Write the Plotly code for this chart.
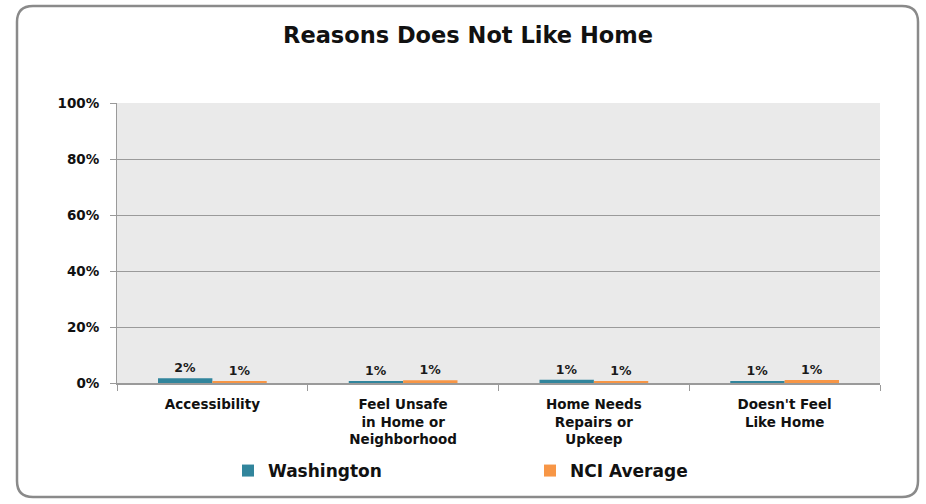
import plotly.graph_objects as go

categories = ["Accessibility", "Feel Unsafe<br>in Home or<br>Neighborhood",
              "Home Needs<br>Repairs or<br>Upkeep", "Doesn't Feel<br>Like Home"]
washington = [1.7, 0.6, 1.2, 0.6]
nci_average = [0.6, 1.0, 0.7, 1.1]
y_ticks = [0, 20, 40, 60, 80, 100]
y_tick_labels = ["0%", "20%", "40%", "60%", "80%", "100%"]

FONT = "DejaVu Sans"
W, H = 926, 504
L, R, T, B = 117, 880, 103, 383

def px(x):
    return (x - L) / (R - L)

def py(y):
    return (B - y) / (B - T)

fig = go.Figure()
fig.add_trace(go.Bar(name="<b>Washington</b>", x=categories, y=washington,
                     marker=dict(color="#31859C", line=dict(width=0)),
                     texttemplate="<b>%{y:.0f}%</b>", textposition="outside",
                     textfont=dict(family=FONT, size=12.5, color="#1a1a1a"),
                     cliponaxis=False))
fig.add_trace(go.Bar(name="<b>NCI Average</b>", x=categories, y=nci_average,
                     marker=dict(color="#F79646", line=dict(width=0)),
                     texttemplate="<b>%{y:.0f}%</b>", textposition="outside",
                     textfont=dict(family=FONT, size=12.5, color="#1a1a1a"),
                     cliponaxis=False))

# rounded outer border
x0, x1, y0, y1, r = 17, 918, 6, 497, 16
path = (f"M {px(x0+r)},{py(y0)} L {px(x1-r)},{py(y0)} "
        f"Q {px(x1)},{py(y0)} {px(x1)},{py(y0+r)} "
        f"L {px(x1)},{py(y1-r)} Q {px(x1)},{py(y1)} {px(x1-r)},{py(y1)} "
        f"L {px(x0+r)},{py(y1)} Q {px(x0)},{py(y1)} {px(x0)},{py(y1-r)} "
        f"L {px(x0)},{py(y0+r)} Q {px(x0)},{py(y0)} {px(x0+r)},{py(y0)} Z")

fig.update_layout(
    width=W, height=H,
    margin=dict(l=L, r=W - R, t=T, b=H - B, pad=0),
    paper_bgcolor="white", plot_bgcolor="#EAEAEA",
    barmode="group", bargap=0.43, bargroupgap=0,
    title=dict(text="<b>Reasons Does Not Like Home</b>", xref="container",
               x=468 / W, xanchor="center",
               y=1 - 35 / H, yanchor="middle",
               font=dict(family=FONT, size=22.5, color="#111111")),
    font=dict(family=FONT, color="#111111"),
    showlegend=True,
    legend=dict(orientation="h", x=px(228), xanchor="left", y=py(471), yanchor="middle",
                entrywidth=257, entrywidthmode="pixels",
                font=dict(family=FONT, size=17, color="#111111"),
                itemsizing="constant", bgcolor="rgba(0,0,0,0)"),
    shapes=[dict(type="path", path=path, xref="paper", yref="paper",
                 line=dict(color="#8a8a8a", width=2.5), fillcolor="rgba(0,0,0,0)",
                 layer="below")],
)
fig.update_xaxes(showline=True, linecolor="#9a9a9a", linewidth=1.5,
                 ticks="outside", tickson="boundaries", ticklen=6, tickcolor="#9a9a9a",
                 ticklabelstandoff=8,
                 tickfont=dict(family=FONT, size=13.5, color="#111111"),
                 tickprefix="<b>", ticksuffix="</b>", showgrid=False)
fig.update_yaxes(range=[0, 100], tickvals=y_ticks,
                 ticktext=[f"<b>{t}</b>" for t in y_tick_labels],
                 showline=True, linecolor="#9a9a9a", linewidth=1,
                 ticks="outside", ticklen=6, tickcolor="#9a9a9a",
                 ticklabelstandoff=8,
                 showgrid=True, gridcolor="#9a9a9a", gridwidth=1,
                 zeroline=False,
                 tickfont=dict(family=FONT, size=13.5, color="#111111"))

fig.write_html("out.html", config={"displayModeBar": False},
               post_script="document.body.style.margin='0';")
